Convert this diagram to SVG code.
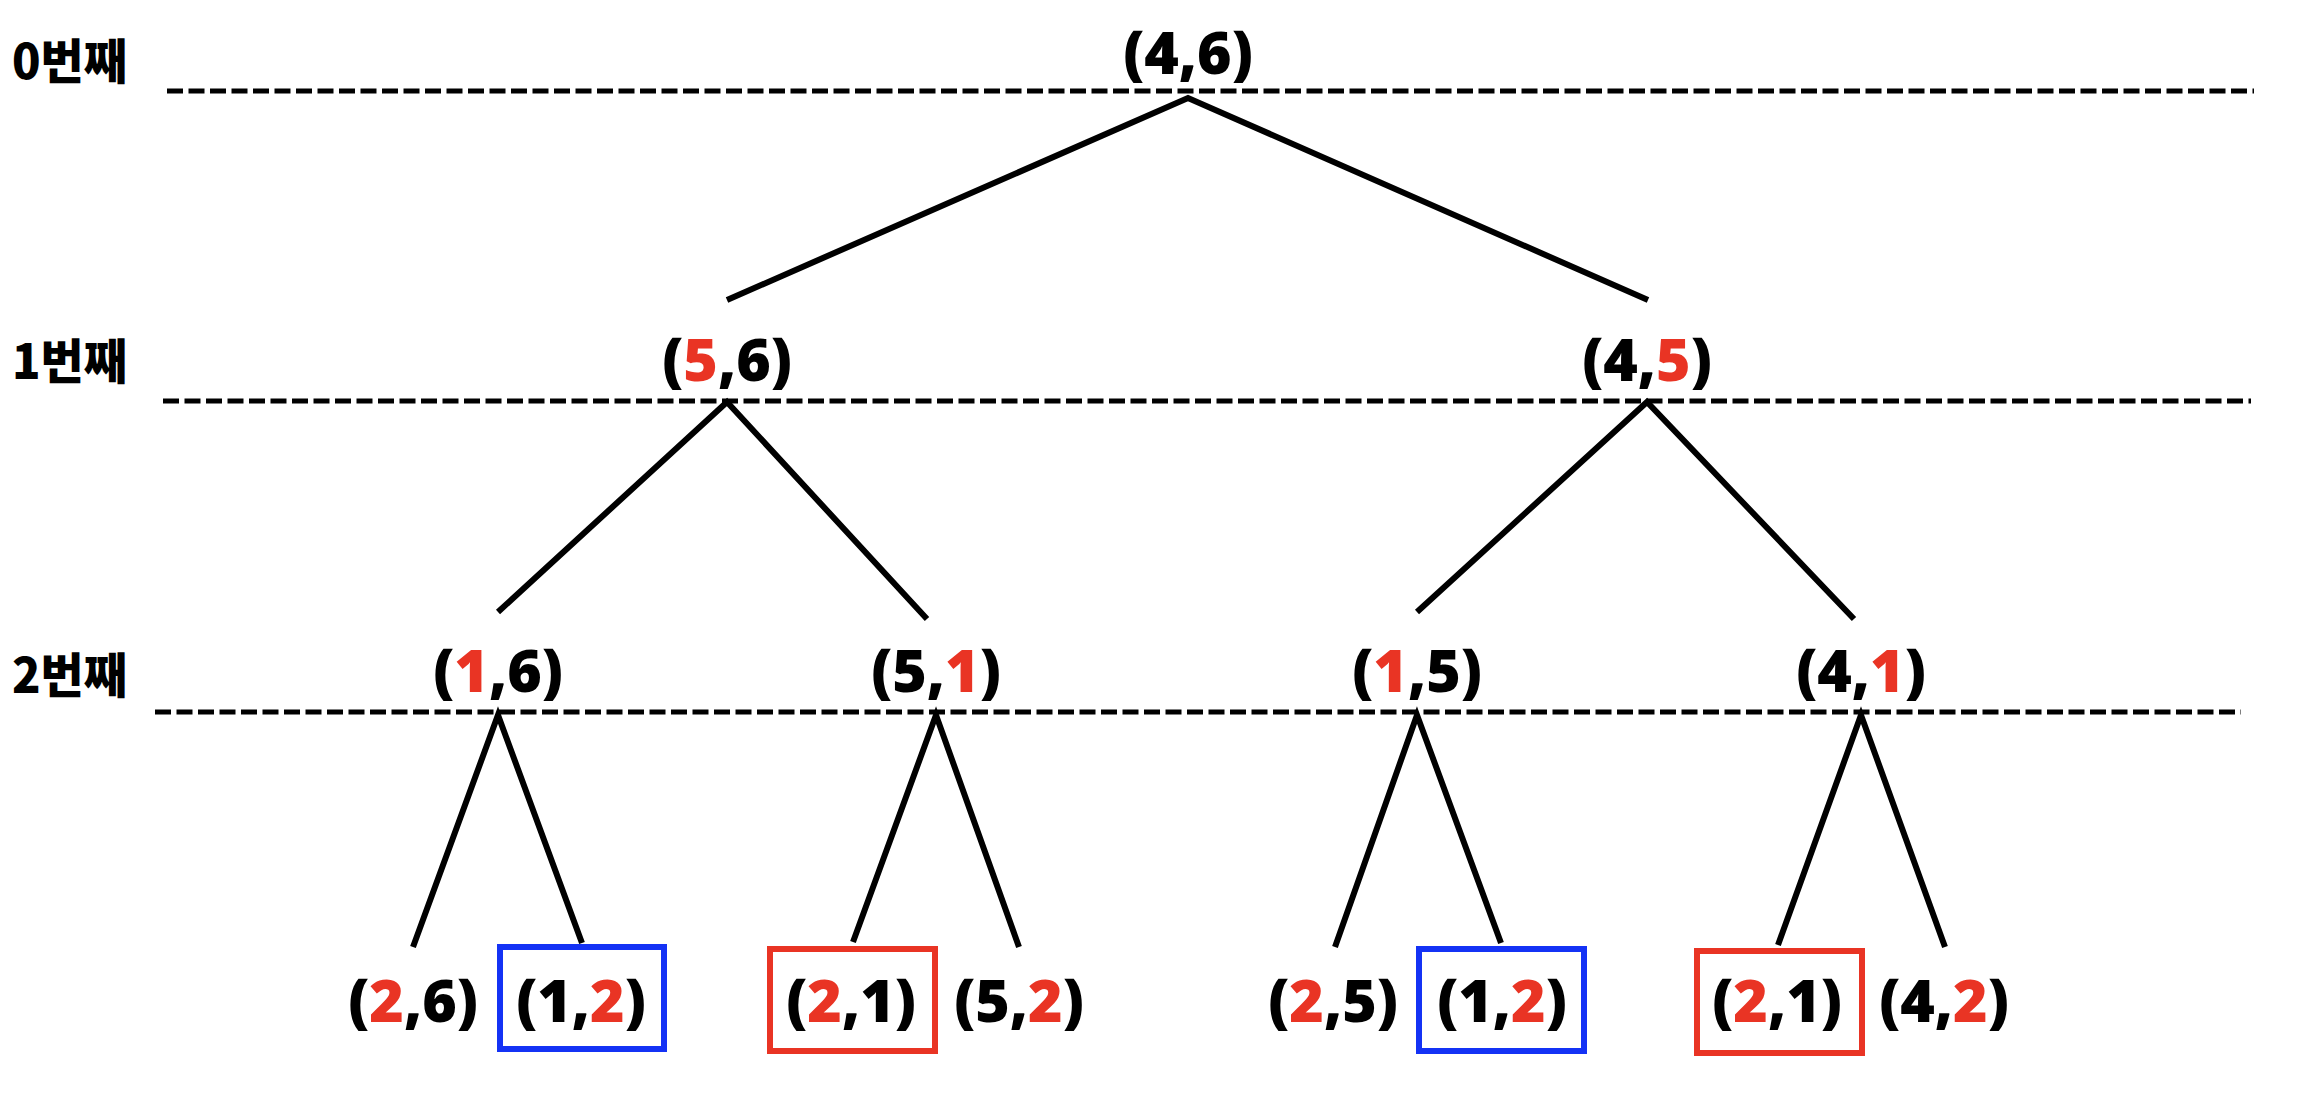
<svg xmlns="http://www.w3.org/2000/svg" width="2322" height="1094" viewBox="0 0 2322 1094">
<style>
.lbl{font-family:"Noto Sans CJK KR","Noto Sans",sans-serif;font-weight:900;font-size:48px;fill:#000}
.nd{font-family:"Open Sans","Liberation Sans",sans-serif;font-weight:800;font-size:59px;fill:#000;text-anchor:middle}
.r{fill:#E93424}
.dash{stroke:#000;stroke-width:5;stroke-dasharray:16 5.5;fill:none}
.edge{stroke:#000;stroke-width:6;fill:none}
.bb{fill:none;stroke:#1432F5;stroke-width:6}
.rb{fill:none;stroke:#E93424;stroke-width:6}
</style>
<rect width="2322" height="1094" fill="#fff"/>
<g id="levels">
<text class="lbl" x="12" y="79" textLength="115" lengthAdjust="spacingAndGlyphs">0번째</text>
<text class="lbl" x="12" y="379" textLength="115" lengthAdjust="spacingAndGlyphs">1번째</text>
<text class="lbl" x="12" y="693" textLength="115" lengthAdjust="spacingAndGlyphs">2번째</text>
<line class="dash" x1="167" y1="91" x2="2254" y2="91"/>
<line class="dash" x1="163" y1="401" x2="2251" y2="401"/>
<line class="dash" x1="155" y1="712" x2="2241" y2="712"/>
</g>
<g id="connectors">
<polyline class="edge" points="727,300 1188,98 1648,300"/>
<polyline class="edge" points="498,612 727,402 927,619"/>
<polyline class="edge" points="1417,612 1647,402 1854,619"/>
<polyline class="edge" points="413,947 498,715 582,943"/>
<polyline class="edge" points="853,942 936,715 1019,947"/>
<polyline class="edge" points="1335,947 1417,715 1501,943"/>
<polyline class="edge" points="1778,945 1861,715 1945,947"/>
</g>
<g id="n0"><text class="nd" x="1188" y="74">(4,6)</text></g>
<g id="n1a"><text class="nd" x="727" y="381">(<tspan class="r">5</tspan>,6)</text></g>
<g id="n1b"><text class="nd" x="1647" y="381">(4,<tspan class="r">5</tspan>)</text></g>
<g id="n2a"><text class="nd" x="498" y="692">(<tspan class="r">1</tspan>,6)</text></g>
<g id="n2b"><text class="nd" x="936" y="692">(5,<tspan class="r">1</tspan>)</text></g>
<g id="n2c"><text class="nd" x="1417" y="692">(<tspan class="r">1</tspan>,5)</text></g>
<g id="n2d"><text class="nd" x="1861" y="692">(4,<tspan class="r">1</tspan>)</text></g>
<g id="n3a"><text class="nd" x="413" y="1022">(<tspan class="r">2</tspan>,6)</text></g>
<g id="n3b"><rect class="bb" x="500" y="947" width="164" height="102"/><text class="nd" x="581" y="1022">(1,<tspan class="r">2</tspan>)</text></g>
<g id="n3c"><rect class="rb" x="770" y="949" width="165" height="102"/><text class="nd" x="851" y="1022">(<tspan class="r">2</tspan>,1)</text></g>
<g id="n3d"><text class="nd" x="1019" y="1022">(5,<tspan class="r">2</tspan>)</text></g>
<g id="n3e"><text class="nd" x="1333" y="1022">(<tspan class="r">2</tspan>,5)</text></g>
<g id="n3f"><rect class="bb" x="1419" y="949" width="165" height="102"/><text class="nd" x="1502" y="1022">(1,<tspan class="r">2</tspan>)</text></g>
<g id="n3g"><rect class="rb" x="1697" y="951" width="165" height="102"/><text class="nd" x="1777" y="1022">(<tspan class="r">2</tspan>,1)</text></g>
<g id="n3h"><text class="nd" x="1944" y="1022">(4,<tspan class="r">2</tspan>)</text></g>
</svg>
